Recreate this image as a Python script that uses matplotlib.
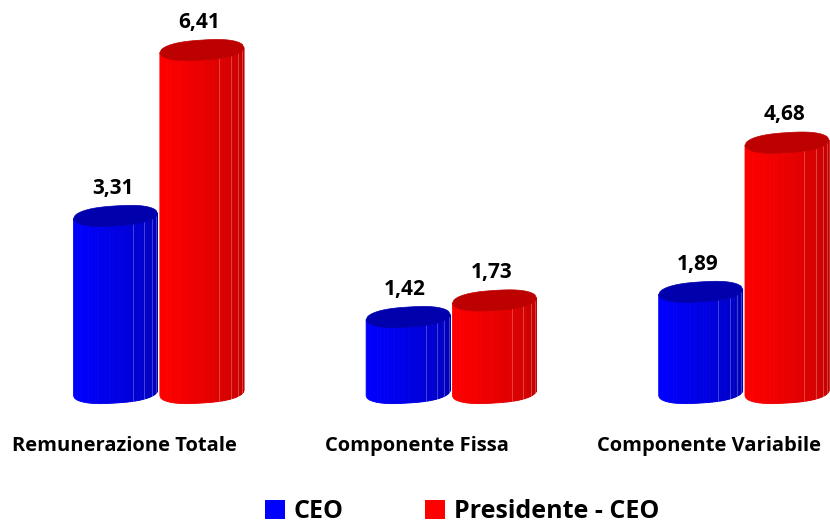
import numpy as np
import matplotlib.pyplot as plt
from matplotlib.patches import Polygon, Patch

categories = ["Remunerazione Totale", "Componente Fissa", "Componente Variabile"]
series_names = ["CEO", "Presidente - CEO"]
ceo = [3.31, 1.42, 1.89]
pres_ceo = [6.41, 1.73, 4.68]
value_labels = [["3,31", "1,42", "1,89"], ["6,41", "1,73", "4,68"]]

font = "Open Sans"
base_cols = [((0.0, 0.0, 1.0), (0.0, 0.0, 0.72), (0.0, 0.0, 0.68)),
             ((1.0, 0.0, 0.0), (0.77, 0.0, 0.0), (0.74, 0.0, 0.0))]

fig = plt.figure(figsize=(8.3, 5.25), dpi=100)
ax = fig.add_axes([0, 0, 1, 1])
ax.set_xlim(-0.540, 2.297)
ax.set_ylim(-2.467, 7.346)
ax.axis("off")

width = 0.287
eh = 0.187      # half height of the ellipse in data units
tilt = 0.05


def curve(x, cx, r, y0, sign):
    t = np.clip((x - cx) / r, -1, 1)
    # flattened ellipse for the prism look
    return y0 + sign * eh * np.sqrt(1 - np.abs(t) ** 2.6) + tilt * t


def cylinder(cx, value, col_light, col_dark, col_top, z):
    r = width / 2
    left = cx - r
    n = 36
    us = np.linspace(0, 1, n + 1)
    xs = left + width * np.sin(us * np.pi / 2)
    for k in range(n):
        f = min(1.0, k / (n - 1) * 1.1)
        c = np.array(col_light) * (1 - f) + np.array(col_dark) * f
        xx = np.linspace(xs[k], xs[k + 1], 6)
        yb = curve(xx, cx, r, 0, -1)
        yt = curve(xx, cx, r, value, -1)
        verts = np.vstack([np.column_stack([xx, yb]),
                           np.column_stack([xx[::-1], yt[::-1]])])
        ax.add_patch(Polygon(verts, closed=True, facecolor=c,
                             edgecolor=c, lw=0.6, zorder=z))
    # facet lines
    for u in (0.5, 0.64, 0.76, 0.88):
        xl = left + width * np.sin(u * np.pi / 2)
        ax.plot([xl, xl],
                [curve(xl, cx, r, 0, -1), curve(xl, cx, r, value, -1)],
                color="white", lw=0.6, alpha=0.3, zorder=z + 0.1)
    tt = np.linspace(-1, 1, 60)
    xx = cx + r * tt
    top = np.vstack([np.column_stack([xx, curve(xx, cx, r, value, 1)]),
                     np.column_stack([xx[::-1], curve(xx[::-1], cx, r, value, -1)])])
    ax.add_patch(Polygon(top, closed=True, facecolor=col_top,
                         edgecolor=col_top, lw=0.5, zorder=z + 0.2))


offsets = [-0.145, 0.15]
for i in range(len(categories)):
    for s, vals in enumerate([ceo, pres_ceo]):
        cx = i + offsets[s]
        light, dark, topc = base_cols[s]
        cylinder(cx, vals[i], light, dark, topc, 2 + s)
        ax.text(cx - 0.01, vals[i] + 0.52, value_labels[s][i], ha="center",
                va="center", fontsize=15, fontweight="bold", family=font,
                color="black", zorder=10)
    ax.text(i - 0.115, -0.99, categories[i], ha="center", va="center",
            fontsize=14.5, fontweight="bold", family=font, color="black")

handles = [Patch(facecolor=(0, 0, 1), edgecolor="none"),
           Patch(facecolor=(1, 0, 0), edgecolor="none")]
leg = ax.legend(handles, series_names, loc="center", bbox_to_anchor=(0.557, 0.025),
                ncol=2, frameon=False, handlelength=0.8, handleheight=0.8,
                handletextpad=0.35, columnspacing=3.25,
                prop={"family": font, "weight": "bold", "size": 18})

fig.savefig("out.png", dpi=100)
